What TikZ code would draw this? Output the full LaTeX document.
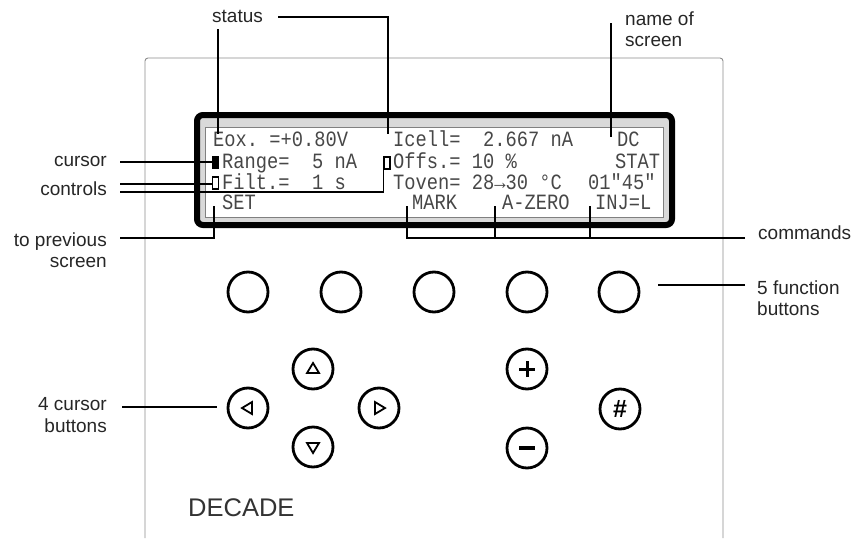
\documentclass[tikz,border=0pt]{standalone}
\usepackage{fontspec}
\setmainfont{Liberation Sans}
\newfontfamily\lcdfont{Liberation Mono}[FakeStretch=0.86]
\usetikzlibrary{positioning,calc}

\begin{document}
\begin{tikzpicture}[x=1pt, y=-1pt,
  lbl/.style={font=\fontsize{19}{21.5}\selectfont, text=black!85, inner sep=0pt},
  lcd/.style={font=\lcdfont\fontsize{21.8}{22}\selectfont, text=black!72, inner sep=0pt, anchor=base west},
  leader/.style={line width=1.6pt},
  btn/.style={circle, draw, line width=2.8pt, minimum size=40pt, inner sep=0pt},
  ctlbox/.style={draw, line width=1.2pt, minimum width=6pt, minimum height=12pt, inner sep=0pt},
]
  \useasboundingbox (0,0) rectangle (859,538);

  % --- Frontplaat ---
  \draw[black!45, line width=0.9pt, rounded corners=3pt] (145,538) |- (723,58) -- (723,538);

  % --- Display ---
  \draw[line width=6pt, rounded corners=6pt, fill=black!15] (197,115) rectangle (672,225);
  \draw[black!50, line width=0.7pt, fill=white] (205,127) rectangle (663,217);

  % --- Regel 1 ---
  \node[lcd] (eox) at (213,146) {Eox.~=+0.80V};
  \node[lcd] (icell) at (393,146) {Icell=~~2.667~nA};
  \node[lcd] (dc) at (617,146) {DC};

  % --- Regel 2 ---
  \node[fill, minimum width=7pt, minimum height=13pt, inner sep=0pt] (curblk) at (215.5,162) {};
  \node[lcd] (range) at (222,168) {Range=~~5~nA};
  \node[ctlbox] (offsbox) at (387,163) {};
  \node[lcd] (offs) at (393,168) {Offs.=~10~\%};
  \node[lcd] (stat) at (615,168) {STAT};

  % --- Regel 3 ---
  \node[ctlbox] (filtbox) at (215.5,183) {};
  \node[lcd] (filt) at (222,189) {Filt.=~~1~s};
  \node[lcd] (toven) at (393,189) {Toven=~28→30~°C};
  \node[lcd] (timer) at (588,189) {01"45"};

  % --- Regel 4: commando's ---
  \node[lcd] (set) at (222,209) {SET};
  \node[lcd] (mark) at (412,209) {MARK};
  \node[lcd] (azero) at (502,209) {A-ZERO};
  \node[lcd] (inj) at (595,209) {INJ=L};

  % --- Punten waar de lijnen eindigen ---
  \coordinate (eoxtip) at ([xshift=5pt,yshift=12pt]eox.base west);
  \coordinate (icelltip) at ([xshift=-5pt,yshift=12pt]icell.base west);
  \coordinate (dctip) at ([xshift=-6pt,yshift=9pt]dc.base west);
  \coordinate (settip) at ([xshift=-8pt,yshift=3pt]set.base west);
  \coordinate (marktip) at ([xshift=-5pt,yshift=3pt]mark.base west);
  \coordinate (azerotip) at ([xshift=-7pt,yshift=3pt]azero.base west);
  \coordinate (injtip) at ([xshift=-5pt,yshift=3pt]inj.base west);

  % --- Functietoetsen ---
  \node[btn] (fb1) at (248,292) {};
  \node[btn] (fb2) at (341,292) {};
  \node[btn] (fb3) at (434,292) {};
  \node[btn] (fb4) at (527,292) {};
  \node[btn] (fb5) at (619,292) {};

  % --- Cursortoetsen ---
  \node[btn] (cup) at (313,369) {};
  \node[btn] (cleft) at (248,408) {};
  \node[btn] (cright) at (379,408) {};
  \node[btn] (cdown) at (313,447) {};
  \draw[line width=1.8pt] ([shift={(-6,4)}]cup.center) -- ++(12,0) -- ++(-6,-10) -- cycle;
  \draw[line width=1.8pt] ([shift={(-6,-4)}]cdown.center) -- ++(12,0) -- ++(-6,10) -- cycle;
  \draw[line width=1.8pt] ([shift={(4,-6)}]cleft.center) -- ++(0,12) -- ++(-10,-6) -- cycle;
  \draw[line width=1.8pt] ([shift={(-4,-6)}]cright.center) -- ++(0,12) -- ++(10,-6) -- cycle;

  % --- Plus, min en # ---
  \node[btn] (plus) at (527,369) {};
  \node[btn] (minus) at (527,448) {};
  \node[btn, font=\bfseries\fontsize{25}{25}\selectfont] (hash) at (620,409) {\#};
  \draw[line width=3pt] ([xshift=-8pt]plus.center) -- ([xshift=8pt]plus.center);
  \draw[line width=3pt] ([yshift=-8pt]plus.center) -- ([yshift=8pt]plus.center);
  \draw[line width=3.5pt] ([xshift=-8pt]minus.center) -- ([xshift=8pt]minus.center);

  \node[font=\fontsize{25.5}{25.5}\selectfont, text=black!80, anchor=base west, inner sep=0pt] (brand) at (188,516) {DECADE};

  % --- Labels ---
  \node[lbl, anchor=base west] (status) at (212,23) {status};
  \node[lbl, anchor=west, align=left] (scrname) at (625,29) {name of\\screen};
  \node[lbl, anchor=base east] (cursorlbl) at (107,166) {cursor};
  \node[lbl, anchor=base east] (ctrllbl) at (107,195) {controls};
  \node[lbl, anchor=east, align=right] (prevlbl) at (107,250) {to previous\\screen};
  \node[lbl, anchor=base west] (cmdlbl) at (758,239) {commands};
  \node[lbl, anchor=west, align=left] (fnlbl) at (757,298) {5 function\\buttons};
  \node[lbl, anchor=east, align=right] (curlbl) at (107,415) {4 cursor\\buttons};

  % --- Lijnen ---
  \coordinate (statA) at (218,29);
  \coordinate (scrA) at (611,23);
  \coordinate (ctrlA) at (120,184);
  \coordinate (ctrlB) at (120,192);
  \coordinate (prevA) at (120,238);
  \coordinate (cmdA) at (745,238);
  \coordinate (fnA) at (745,285);
  \coordinate (fnB) at (658,285);
  \coordinate (curA) at (122,407);
  \coordinate (curB) at (217,407);

  \draw[leader] (statA) -- (eoxtip);
  \draw[leader] ([xshift=15pt]status.east) -| (icelltip);
  \draw[leader] (scrA) -- (dctip);
  \draw[leader] ([xshift=13pt]cursorlbl.east |- curblk.west) -- (curblk.west);
  \draw[leader] (ctrlA) -- (ctrlA -| filtbox.west);
  \draw[leader] (ctrlB) -| (offsbox.south west);
  \draw[leader] (prevA) -| (settip);
  \draw[leader] (cmdA) -- (cmdA -| marktip) -- (marktip);
  \draw[leader] (cmdA -| azerotip) -- (azerotip);
  \draw[leader] (cmdA -| injtip) -- (injtip);
  \draw[leader] (fnA) -- (fnB);
  \draw[leader] (curA) -- (curB);

\end{tikzpicture}
\end{document}
